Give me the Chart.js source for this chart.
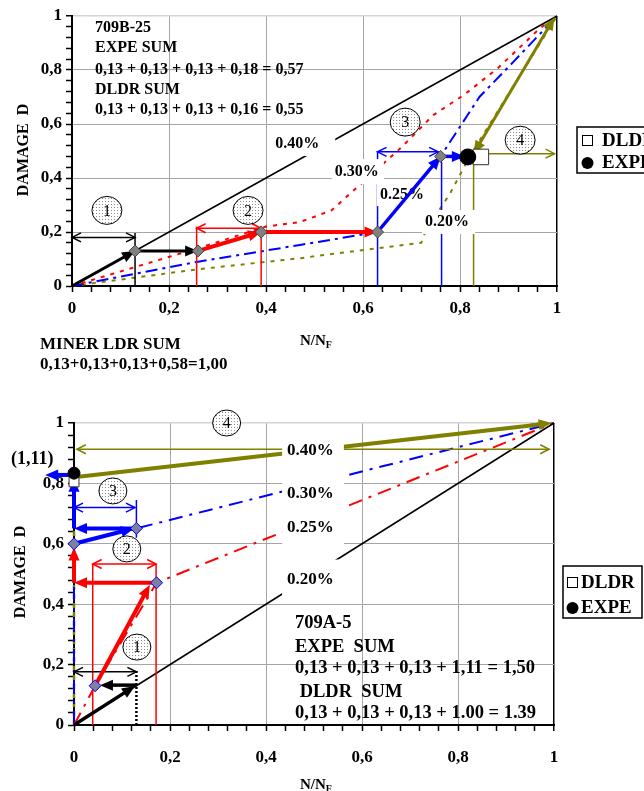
<!DOCTYPE html>
<html lang="es">
<head>
<meta charset="utf-8">
<title>Daño acumulado 709B-25 / 709A-5</title>
<script src="https://cdn.jsdelivr.net/npm/chart.js@4.4.1/dist/chart.umd.min.js"></script>
<style>
  body { margin: 0; background: #fff; }
  .panel { position: absolute; left: 0; }
  #panelSup { top: 0; }
  #panelInf { top: 385px; }
</style>
</head>
<body>
<div class="panel" id="panelSup"><canvas id="graficaSup" width="644" height="385"></canvas></div>
<div class="panel" id="panelInf"><canvas id="graficaInf" width="644" height="406"></canvas></div>
<script>
// Marcas de los ejes (cada 0,04, etiqueta cada 0,2)
const marcasEje = [0, 0.04, 0.08, 0.12, 0.16, 0.2, 0.24, 0.28, 0.32, 0.36, 0.4, 0.44, 0.48,
    0.52, 0.56, 0.6, 0.64, 0.68, 0.72, 0.76, 0.8, 0.84, 0.88, 0.92, 0.96, 1];
const etiquetasEje = ['0', '0,2', '0,4', '0,6', '0,8', '1'];

// ---- Gráfica superior: 709B-25 ----
const supX040 = [0, 1];
const supY040 = [0, 1];
const supX030 = [0, 0.26, 0.40, 0.47, 0.535, 0.60, 0.68, 0.745, 0.81, 0.88, 0.965, 1];
const supY030 = [0, 0.14, 0.22, 0.237, 0.28, 0.385, 0.515, 0.633, 0.71, 0.81, 0.955, 1];
const supX025 = [0, 0.26, 0.47, 0.63, 0.76, 0.84, 0.91, 1];
const supY025 = [0, 0.09, 0.152, 0.20, 0.48, 0.70, 0.83, 1];
const supX020 = [0, 0.26, 0.47, 0.63, 0.72, 0.73, 0.78, 0.82, 1];
const supY020 = [0, 0.062, 0.103, 0.14, 0.16, 0.207, 0.344, 0.48, 1];

const supRombosX = [0.13, 0.26, 0.39, 0.63, 0.76];
const supRombosY = [0.13, 0.13, 0.20, 0.20, 0.48];
const supExpeX = [0.816];
const supExpeY = [0.478];
const supDldrX = [0.843];
const supDldrY = [0.478];

// tramos de carga (flechas gruesas)
const supTramoX1 = [0, 0.13, 0.26, 0.39, 0.63, 0.76, 0.995];
const supTramoY1 = [0, 0.13, 0.13, 0.20, 0.20, 0.48, 0.995];
const supTramoX2 = [0.13, 0.26, 0.39, 0.63, 0.76, 0.81, 0.828];
const supTramoY2 = [0.13, 0.13, 0.20, 0.20, 0.48, 0.48, 0.49];

// cotas (flechas finas dobles) y líneas verticales
const supCotaX1 = [0, 0.257, 0.63, 0.828];
const supCotaX2 = [0.13, 0.39, 0.755, 0.995];
const supCotaY = [0.18, 0.214, 0.497, 0.49];
const supGuiaX = [0.13, 0.257, 0.39, 0.63, 0.762, 0.828];
const supGuiaY0 = [0, 0, 0, 0, 0, 0];
const supGuiaY1 = [0.196, 0.22, 0.20, 0.50, 0.46, 0.49];

const supCirculoX = [0.072, 0.363, 0.687, 0.924];
const supCirculoY = [0.28, 0.28, 0.607, 0.54];
const supEtiquetaTxt = ['0.40%', '0.30%', '0.25%', '0.20%'];
const supEtiquetaX = [0.419, 0.542, 0.635, 0.728];
const supEtiquetaY = [0.526, 0.422, 0.337, 0.237];
const supTexto = ['709B-25', 'EXPE SUM', '0,13 + 0,13 + 0,13 + 0,18 = 0,57',
    'DLDR SUM', '0,13 + 0,13 + 0,13 + 0,16 = 0,55'];
const supMiner = ['MINER LDR SUM', '0,13+0,13+0,13+0,58=1,00'];

// ---- Gráfica inferior: 709A-5 ----
const infX020 = [0, 1];
const infY020 = [0, 1];
const infX025 = [0, 0.044, 0.172, 1];
const infY025 = [0, 0.13, 0.471, 1];
const infX030 = [0, 0, 0.13, 1];
const infY030 = [0, 0.6, 0.651, 1];
const infX040a = [0, 0];
const infY040a = [0, 0.82];
const infX040b = [0, 0.975];
const infY040b = [0.82, 0.9955];

const infRombosX = [0.044, 0.172, 0, 0.13];
const infRombosY = [0.13, 0.471, 0.6, 0.651];
const infExpeX = [0];
const infExpeY = [0.834];
const infDldrX = [0];
const infDldrY = [0.805];

const infTramoX1 = [0, 0.13, 0.044, 0.172, 0, 0, 0.13, 0, 0, 0.95];
const infTramoY1 = [0, 0.132, 0.13, 0.471, 0.471, 0.6, 0.651, 0.651, 0.828, 0.991];
const infTramoX2 = [0.127, 0.054, 0.158, 0, 0, 0.125, 0, 0, -0.06, 0.995];
const infTramoY2 = [0.129, 0.132, 0.464, 0.471, 0.588, 0.651, 0.651, 0.815, 0.828, 1.0];

const infCotaX1 = [0, 0.039, 0, 0.006];
const infCotaX2 = [0.13, 0.171, 0.127, 0.99];
const infCotaY = [0.176, 0.533, 0.72, 0.913];
const infGuiaX = [0.13, 0.039, 0.171, 0.13];
const infGuiaY0 = [0, 0, 0, 0.62];
const infGuiaY1 = [0.18, 0.533, 0.533, 0.745];

const infCirculoX = [0.131, 0.11, 0.081, 0.318];
const infCirculoY = [0.258, 0.583, 0.775, 1.0];
const infEtiquetaTxt = ['0.40%', '0.30%', '0.25%', '0.20%'];
const infEtiquetaX = [0.444, 0.444, 0.444, 0.444];
const infEtiquetaY = [0.907, 0.765, 0.652, 0.48];
const infTexto = ['709A-5', 'EXPE  SUM', '0,13 + 0,13 + 0,13 + 1,11 = 1,50',
    ' DLDR  SUM', '0,13 + 0,13 + 0,13 + 1.00 = 1.39'];

const FUENTE = '"Liberation Serif", "Times New Roman", serif';
const NEGRO = '#000000', ROJO = '#ff0000', AZUL = '#0000ff', OLIVA = '#808000';

function serie(xs, ys) {
    return xs.map((x, i) => ({ x: x, y: ys[i] }));
}

function curva(xs, ys, color, ancho, guion) {
    return { data: serie(xs, ys), showLine: true, borderColor: color, borderWidth: ancho,
        borderDash: guion, pointRadius: 0, tension: 0, fill: false, order: 1, clip: false };
}

function marcas(xs, ys, estilo, radio, relleno, borde) {
    return { data: serie(xs, ys), showLine: false, pointStyle: estilo, pointRadius: radio,
        backgroundColor: relleno, borderColor: borde, borderWidth: 1, order: 0, clip: false, marca: true };
}

function px(chart, x, y) {
    return [chart.scales.x.getPixelForValue(x), chart.scales.y.getPixelForValue(y)];
}

// Punta de flecha (llena o abierta)
function punta(ctx, xa, ya, xb, yb, largo, ancho, llena) {
    const ang = Math.atan2(yb - ya, xb - xa);
    ctx.save();
    ctx.translate(xb, yb);
    ctx.rotate(ang);
    ctx.beginPath();
    ctx.moveTo(-largo, -ancho / 2);
    ctx.lineTo(0, 0);
    ctx.lineTo(-largo, ancho / 2);
    if (llena) { ctx.closePath(); ctx.fill(); } else { ctx.stroke(); }
    ctx.restore();
}

function flecha(ctx, a, b, color, grosor, doble, llena, largo, ancho) {
    const dx = b[0] - a[0], dy = b[1] - a[1];
    const d = Math.hypot(dx, dy) || 1;
    const ux = dx / d, uy = dy / d;
    const recorte = llena ? largo * 0.8 : 0;
    ctx.save();
    ctx.strokeStyle = color;
    ctx.fillStyle = color;
    ctx.lineWidth = grosor;
    ctx.lineJoin = 'miter';
    ctx.beginPath();
    ctx.moveTo(a[0] + (doble ? ux * recorte : 0), a[1] + (doble ? uy * recorte : 0));
    ctx.lineTo(b[0] - ux * recorte, b[1] - uy * recorte);
    ctx.stroke();
    ctx.lineWidth = llena ? 1 : grosor;
    punta(ctx, a[0], a[1], b[0], b[1], largo, ancho, llena);
    if (doble) punta(ctx, b[0], b[1], a[0], a[1], largo, ancho, llena);
    ctx.restore();
}

function texto(ctx, s, x, y, tam, negrita, alinear) {
    ctx.save();
    ctx.font = (negrita ? 'bold ' : '') + tam + 'px ' + FUENTE;
    ctx.fillStyle = NEGRO;
    ctx.textAlign = alinear || 'left';
    ctx.textBaseline = 'middle';
    ctx.fillText(s, x, y);
    ctx.restore();
}

let patron = null;
function patronPuntos(ctx) {
    if (!patron) {
        const c = document.createElement('canvas');
        c.width = 3; c.height = 3;
        const g = c.getContext('2d');
        g.fillStyle = '#ffffff';
        g.fillRect(0, 0, 3, 3);
        g.fillStyle = '#8c8c8c';
        g.fillRect(0, 0, 1, 1);
        patron = ctx.createPattern(c, 'repeat');
    }
    return patron;
}

function circuloNumero(ctx, x, y, r, s) {
    ctx.save();
    ctx.beginPath();
    ctx.ellipse(x, y, r, r - 1, 0, 0, 2 * Math.PI);
    ctx.fillStyle = patronPuntos(ctx);
    ctx.fill();
    ctx.lineWidth = 1;
    ctx.strokeStyle = NEGRO;
    ctx.stroke();
    ctx.restore();
    texto(ctx, s, x, y + 1, 16, false, 'center');
}

function etiquetaConFondo(ctx, s, x, y, tam, pad) {
    ctx.save();
    ctx.font = 'bold ' + tam + 'px ' + FUENTE;
    const w = ctx.measureText(s).width;
    ctx.fillStyle = '#ffffff';
    ctx.fillRect(x - pad[0], y - tam / 2 - pad[1], w + pad[0] + pad[2], tam + pad[1] + pad[3]);
    ctx.restore();
    texto(ctx, s, x, y, tam, true);
}

// Leyenda: caja, cuadro vacío (DLDR) y círculo lleno (EXPE)
function leyenda(ctx, x, y, w, h, margen, sepTexto, fila1, fila2, filas) {
    ctx.save();
    ctx.fillStyle = '#ffffff';
    ctx.fillRect(x, y, w, h);
    ctx.strokeStyle = NEGRO;
    ctx.lineWidth = 1.5;
    ctx.strokeRect(x, y, w, h);
    ctx.lineWidth = 1;
    ctx.strokeRect(x + margen + 0.5, y + fila1 - 5.5, 10, 10);
    ctx.beginPath();
    ctx.arc(x + margen + 5.5, y + fila2, 6, 0, 2 * Math.PI);
    ctx.fillStyle = NEGRO;
    ctx.fill();
    ctx.restore();
    texto(ctx, filas[0], x + margen + sepTexto, y + fila1, 19, true);
    texto(ctx, filas[1], x + margen + sepTexto, y + fila2, 19, true);
}

function tituloX(ctx, x, y) {
    ctx.save();
    ctx.font = 'bold 15px ' + FUENTE;
    const w = ctx.measureText('N/N').width;
    ctx.restore();
    texto(ctx, 'N/N', x, y, 15, true);
    texto(ctx, 'F', x + w, y + 4, 10, true);
}

function tituloY(ctx, x, y) {
    ctx.save();
    ctx.translate(x, y);
    ctx.rotate(-Math.PI / 2);
    texto(ctx, 'DAMAGE  D', 0, 0, 16, true, 'center');
    ctx.restore();
}

// Dibuja flechas, cotas, etiquetas y círculos numerados (entre curvas y marcadores)
function dibujarAnotaciones(chart, a) {
    const ctx = chart.ctx;
    a.guiaX.forEach((x, i) => {
        const p = px(chart, x, a.guiaY0[i]);
        const q = px(chart, x, a.guiaY1[i]);
        ctx.save();
        ctx.strokeStyle = a.guiaColor[i];
        ctx.lineWidth = a.guiaAncho[i];
        ctx.setLineDash(a.guiaGuion[i]);
        ctx.beginPath();
        ctx.moveTo(p[0], p[1]);
        ctx.lineTo(q[0], q[1]);
        ctx.stroke();
        ctx.restore();
    });
    a.cotaY.forEach((y, i) => {
        flecha(ctx, px(chart, a.cotaX1[i], y), px(chart, a.cotaX2[i], y), a.cotaColor[i], 1.5, true, false, 9, 9);
    });
    a.etiquetaTxt.forEach((s, i) => {
        const p = px(chart, a.etiquetaX[i], a.etiquetaY[i]);
        etiquetaConFondo(ctx, s, p[0], p[1], a.etiquetaTam, a.etiquetaPad[i]);
    });
    a.tramoX1.forEach((x, i) => {
        flecha(ctx, px(chart, x, a.tramoY1[i]), px(chart, a.tramoX2[i], a.tramoY2[i]),
            a.tramoColor[i], a.tramoAncho[i], a.tramoDoble[i], true, 13, 11);
    });
    a.circuloX.forEach((x, i) => {
        const p = px(chart, x, a.circuloY[i]);
        circuloNumero(ctx, p[0], p[1], a.radio, String(i + 1));
    });
}

function crearAnotaciones(a) {
    let hecho = false;
    return {
        id: 'anotaciones',
        beforeDraw() { hecho = false; },
        beforeDatasetDraw(chart, args) {
            if (!hecho && chart.data.datasets[args.index].marca) {
                dibujarAnotaciones(chart, a);
                hecho = true;
            }
        },
        afterDatasetsDraw(chart) {
            if (!hecho) { dibujarAnotaciones(chart, a); hecho = true; }
        },
        afterDraw(chart) { a.textos(chart.ctx, chart); }
    };
}

function colorRejilla(i, eje) {
    if (i === 0) return 'rgba(0,0,0,0)';
    if (i === marcasEje.length - 1) return eje === 'x' ? NEGRO : '#d4d4d4';
    return i % 5 === 0 ? '#a6a6a6' : 'rgba(0,0,0,0)';
}

function opcionesEje(eje, g) {
    return {
        type: 'linear', min: 0, max: 1,
        afterBuildTicks: s => { s.ticks = marcasEje.map(v => ({ value: v })); },
        afterFit: s => {
            if (eje === 'x') s.height = g.alto - g.abajo; else s.width = g.izq;
        },
        border: { color: NEGRO, width: 2 },
        grid: {
            color: c => colorRejilla(c.index, eje),
            lineWidth: c => (c.index === marcasEje.length - 1 ? 1.5 : 1),
            drawTicks: true, tickLength: 6, tickColor: NEGRO, tickWidth: 1.5
        },
        ticks: {
            autoSkip: false, maxRotation: 0, color: NEGRO,
            padding: eje === 'x' ? g.padX : 4,
            font: { family: FUENTE, size: 17, weight: 'bold' },
            callback: (v, i) => (i % 5 === 0 ? etiquetasEje[i / 5] : '')
        }
    };
}

function crearGrafica(id, g, datasets, anot) {
    return new Chart(document.getElementById(id), {
        type: 'scatter',
        data: { datasets: datasets },
        options: {
            responsive: false, animation: false, events: [],
            layout: { padding: { left: 0, top: g.arriba, right: 644 - g.der, bottom: 0 } },
            scales: { x: opcionesEje('x', g), y: opcionesEje('y', g) },
            plugins: { legend: { display: false }, tooltip: { enabled: false } }
        },
        plugins: [crearAnotaciones(anot)]
    });
}

// ---- Gráfica superior ----
crearGrafica('graficaSup', { izq: 72, der: 557, arriba: 16, abajo: 286, alto: 385, padX: 6 }, [
    marcas(supExpeX, supExpeY, 'circle', 8, NEGRO, NEGRO),
    marcas(supDldrX, supDldrY, 'rect', 11, '#ffffff', '#333333'),
    marcas(supRombosX, supRombosY, 'rectRot', 6, '#808080', '#404040'),
    curva(supX040, supY040, NEGRO, 1.5, []),
    curva(supX030, supY030, ROJO, 2, [4, 6]),
    curva(supX025, supY025, AZUL, 2, [12, 5, 3, 5]),
    curva(supX020, supY020, OLIVA, 2, [4, 6])
], {
    guiaX: supGuiaX, guiaY0: supGuiaY0, guiaY1: supGuiaY1,
    guiaColor: [NEGRO, ROJO, ROJO, AZUL, AZUL, OLIVA],
    guiaAncho: [1.5, 1.5, 1.5, 1.5, 1.5, 1.5],
    guiaGuion: [[], [], [], [], [], []],
    cotaX1: supCotaX1, cotaX2: supCotaX2, cotaY: supCotaY,
    cotaColor: [NEGRO, ROJO, AZUL, OLIVA],
    etiquetaTxt: supEtiquetaTxt, etiquetaX: supEtiquetaX, etiquetaY: supEtiquetaY, etiquetaTam: 16,
    etiquetaPad: [[3, 4, 16, 4], [3, 5, 5, 4], [3, 3, 4, 3], [3, 4, 6, 4]],
    tramoX1: supTramoX1, tramoY1: supTramoY1, tramoX2: supTramoX2, tramoY2: supTramoY2,
    tramoColor: [NEGRO, NEGRO, ROJO, ROJO, AZUL, AZUL, OLIVA],
    tramoAncho: [3, 3, 4, 4, 3.5, 3.5, 3],
    tramoDoble: [false, false, false, false, false, false, true],
    circuloX: supCirculoX, circuloY: supCirculoY, radio: 15,
    textos: (ctx) => {
        const ys = [28, 47.5, 70, 89.5, 110];
        supTexto.forEach((s, i) => texto(ctx, s, 95, ys[i], 16, true));
        texto(ctx, supMiner[0], 40, 345, 17, true);
        texto(ctx, supMiner[1], 40, 365, 17, true);
        tituloX(ctx, 300, 341);
        tituloY(ctx, 24, 150);
        leyenda(ctx, 577, 127, 80, 46, 5, 20, 14, 36, ['DLDR', 'EXPE']);
    }
});

// ---- Gráfica inferior ----
crearGrafica('graficaInf', { izq: 74, der: 554, arriba: 38, abajo: 340, alto: 406, padX: 16 }, [
    marcas(infExpeX, infExpeY, 'circle', 6, NEGRO, NEGRO),
    marcas(infDldrX, infDldrY, 'rect', 7, '#ffffff', '#333333'),
    marcas(infRombosX, infRombosY, 'rectRot', 6, '#7f7f9f', AZUL),
    curva(infX020, infY020, NEGRO, 1.5, []),
    curva(infX025, infY025, ROJO, 2, [14, 7, 3, 7]),
    curva(infX030, infY030, AZUL, 2, [14, 7, 3, 7]),
    curva(infX040a, infY040a, OLIVA, 2.5, [5, 4]),
    curva(infX040b, infY040b, OLIVA, 4, [])
], {
    guiaX: infGuiaX, guiaY0: infGuiaY0, guiaY1: infGuiaY1,
    guiaColor: [NEGRO, ROJO, ROJO, AZUL],
    guiaAncho: [2.5, 1.5, 1.5, 1.5],
    guiaGuion: [[2, 2], [], [], []],
    cotaX1: infCotaX1, cotaX2: infCotaX2, cotaY: infCotaY,
    cotaColor: [NEGRO, ROJO, AZUL, OLIVA],
    etiquetaTxt: infEtiquetaTxt, etiquetaX: infEtiquetaX, etiquetaY: infEtiquetaY, etiquetaTam: 17,
    etiquetaPad: [[5, 12, 10, 12], [5, 12, 10, 12], [5, 12, 10, 16], [5, 12, 10, 12]],
    tramoX1: infTramoX1, tramoY1: infTramoY1, tramoX2: infTramoX2, tramoY2: infTramoY2,
    tramoColor: [NEGRO, NEGRO, ROJO, ROJO, ROJO, AZUL, AZUL, AZUL, AZUL, OLIVA],
    tramoAncho: [3.5, 3.5, 4, 4, 4, 4, 4, 4, 4, 4],
    tramoDoble: [false, false, false, false, false, false, false, false, false, false],
    circuloX: infCirculoX, circuloY: infCirculoY, radio: 14,
    textos: (ctx) => {
        const ys = [238, 262, 283, 307, 328];
        infTexto.forEach((s, i) => texto(ctx, s, 295, ys[i], 18.5, true));
        texto(ctx, '(1,11)', 11, 74, 18, true);
        tituloX(ctx, 300, 400);
        tituloY(ctx, 21, 187);
        leyenda(ctx, 563, 181, 79, 52, 4, 14, 17, 42, ['DLDR', 'EXPE']);
    }
});
</script>
</body>
</html>
